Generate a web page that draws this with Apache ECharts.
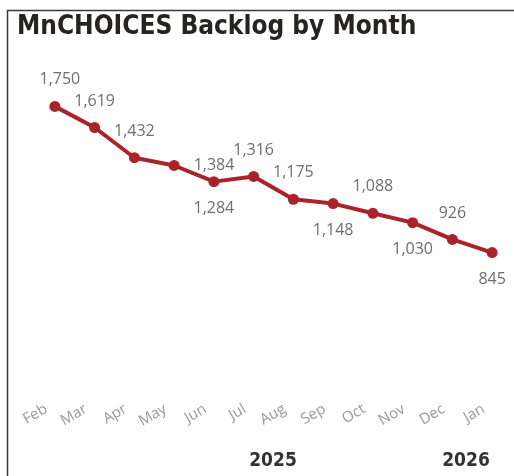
<!DOCTYPE html>
<html lang="en">
<head>
    <meta charset="UTF-8">
    <title>MnCHOICES Backlog by Month</title>
    <script src="https://cdn.jsdelivr.net/npm/echarts@6/dist/echarts.min.js"></script>
    <style>
        html, body { margin: 0; padding: 0; background: #fff; }
    </style>
</head>
<body>
    <div id="main" style="width:514px;height:476px;"></div>
    <script>
        // data
        var months = ['Feb', 'Mar', 'Apr', 'May', 'Jun', 'Jul', 'Aug', 'Sep', 'Oct', 'Nov', 'Dec', 'Jan'];
        var backlog = [1750, 1619, 1432, 1384, 1284, 1316, 1175, 1148, 1088, 1030, 926, 845];
        var years = ['2025', '2026'];

        // where each value label sits relative to its point
        var labelSide = ['top', 'top', 'top', 'right', 'bottom', 'top', 'top', 'bottom', 'top', 'bottom', 'top', 'bottom'];

        var myChart = echarts.init(document.getElementById('main'));

        var points = backlog.map(function (v, i) {
            var side = labelSide[i];
            return {
                value: v,
                label: {
                    position: side,
                    distance: side === 'right' ? 14 : 13,
                    offset: i === 0 ? [5, 0] : [0, 0]
                }
            };
        });

        var option = {
            animation: false,
            grid: { left: 35, right: 2, top: 66, bottom: 87 },
            xAxis: {
                type: 'category',
                data: months,
                boundaryGap: true,
                axisLine: { show: false },
                axisTick: { show: false },
                axisLabel: {
                    rotate: 30,
                    margin: 14,
                    color: '#9a9a9a',
                    fontSize: 15,
                    fontFamily: 'Open Sans',
                    padding: [0, 10, 0, 0]
                }
            },
            yAxis: {
                type: 'value',
                min: 0,
                max: 2000,
                show: false,
                splitLine: { show: false }
            },
            series: [{
                type: 'line',
                data: points,
                symbol: 'circle',
                symbolSize: 11,
                lineStyle: { color: '#a8232b', width: 4 },
                itemStyle: { color: '#a8232b' },
                label: {
                    show: true,
                    color: '#6f6f6f',
                    fontSize: 16,
                    fontFamily: 'Open Sans',
                    formatter: function (p) { return p.value.toLocaleString('en-US'); }
                }
            }],
            graphic: [
                {
                    type: 'rect',
                    shape: { x: 7.5, y: 10.5, width: 600, height: 600 },
                    style: { fill: 'none', stroke: '#3a3a3a', lineWidth: 1.5 }
                },
                {
                    type: 'text',
                    left: 17,
                    top: 14,
                    style: {
                        text: 'MnCHOICES Backlog by Month',
                        font: 'bold 26px "DejaVu Sans Condensed"',
                        fill: '#252423'
                    }
                },
                {
                    type: 'text',
                    x: 273,
                    y: 461,
                    style: {
                        text: years[0],
                        font: 'bold 19px "DejaVu Sans Condensed"',
                        fill: '#333',
                        align: 'center',
                        verticalAlign: 'middle'
                    }
                },
                {
                    type: 'text',
                    x: 466,
                    y: 461,
                    style: {
                        text: years[1],
                        font: 'bold 19px "DejaVu Sans Condensed"',
                        fill: '#333',
                        align: 'center',
                        verticalAlign: 'middle'
                    }
                }
            ]
        };

        myChart.setOption(option);
    </script>
</body>
</html>
